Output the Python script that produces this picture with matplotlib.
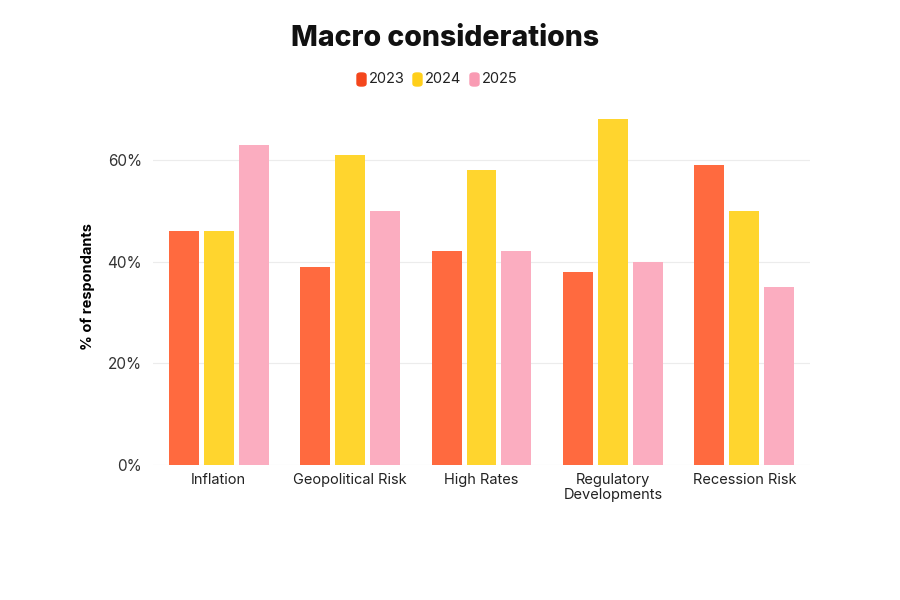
import numpy as np
import matplotlib
matplotlib.use("Agg")
import matplotlib.pyplot as plt
from matplotlib.patches import FancyBboxPatch
from matplotlib.ticker import FuncFormatter

CATEGORIES = ["Inflation", "Geopolitical Risk", "High Rates", "Regulatory\nDevelopments", "Recession Risk"]
YEARS = ["2023", "2024", "2025"]
V2023 = [46, 39, 42, 38, 59]
V2024 = [46, 61, 58, 68, 50]
V2025 = [63, 50, 42, 40, 35]

BAR_COLORS = ["#FF6A3F", "#FFD52E", "#FBADC0"]
KEY_COLORS = ["#F4461C", "#FFCF1A", "#F99BB3"]

plt.rcParams["font.family"] = ["Inter", "DejaVu Sans"]

fig = plt.figure(figsize=(9, 6), dpi=100)
ax = fig.add_axes([153 / 900, 1 - 465 / 600, 657 / 900, (465 - 109) / 600])

x = np.arange(len(CATEGORIES))
w = 30 / 131.5
step = 35 / 131.5
for i, (vals, col) in enumerate(zip([V2023, V2024, V2025], BAR_COLORS)):
    ax.bar(x + (i - 1) * step, vals, width=w, color=col, zorder=2)

ax.set_xlim(-0.5, len(CATEGORIES) - 0.5)
ax.set_ylim(0, 70)
ax.set_yticks([0, 20, 40, 60])
ax.yaxis.set_major_formatter(FuncFormatter(lambda v, p: f"{v:.0f}%"))
ax.set_xticks(x)
ax.set_xticklabels(CATEGORIES, fontsize=10.5, color="#222222", linespacing=1.1)
ax.tick_params(axis="y", length=0, labelsize=11, labelcolor="#333333", pad=8)
ax.tick_params(axis="x", length=0, pad=6)
ax.grid(axis="y", color="#ececec", linewidth=0.8, zorder=0)
for s in ax.spines.values():
    s.set_visible(False)

ax.set_ylabel("% of respondants", fontsize=10.5, fontweight="bold", labelpad=9)

fig.text(0.494, 0.935, "Macro considerations", ha="center", va="center",
         fontsize=20.5, fontweight="heavy", color="#111111")

# legend: rounded swatches + labels
lx = [357, 413, 470]
for xp, col, lab in zip(lx, KEY_COLORS, YEARS):
    fig.patches.append(FancyBboxPatch((xp / 900, 1 - 86 / 600), 9 / 900, 13 / 600,
                                      boxstyle="round,pad=0,rounding_size=0.004",
                                      transform=fig.transFigure, color=col))
    fig.text((xp + 12) / 900, 1 - 79 / 600, lab, ha="left", va="center",
             fontsize=10.5, color="#222222")

fig.savefig("out.png", dpi=100, facecolor="white")
